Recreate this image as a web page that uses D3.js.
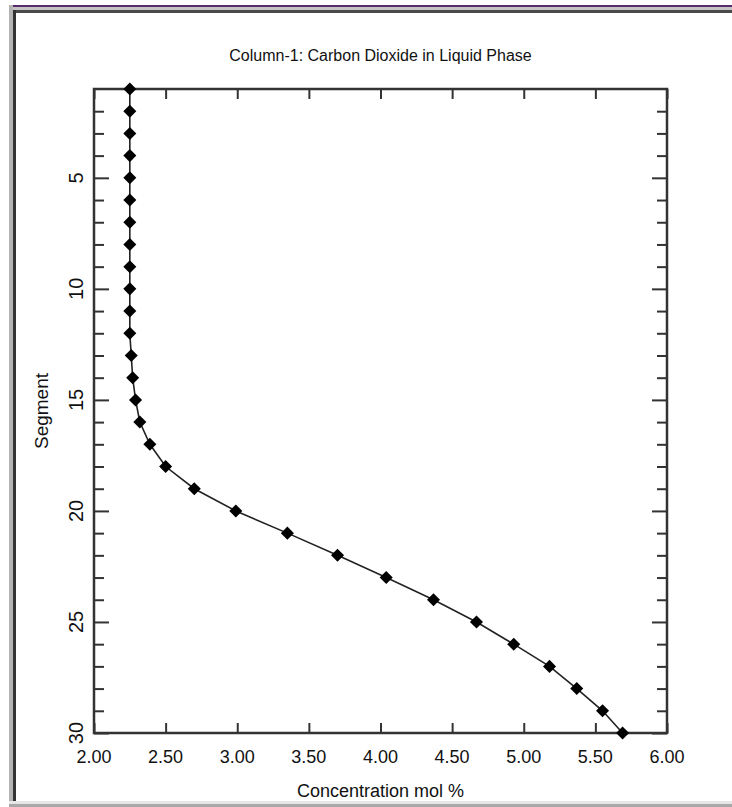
<!DOCTYPE html>
<html>
<head>
<meta charset="utf-8">
<script src="https://cdn.jsdelivr.net/npm/d3@7"></script>
<style>
  body { margin: 0; background: #fff; }
  svg { display: block; }
  text { font-family: "Liberation Sans", Arial, sans-serif; fill: #111; }
</style>
</head>
<body>
<svg id="chart"></svg>
<script>
'use strict';

// data
var segments = [1, 2, 3, 4, 5, 6, 7, 8, 9, 10, 11, 12, 13, 14, 15,
                16, 17, 18, 19, 20, 21, 22, 23, 24, 25, 26, 27, 28, 29, 30];
var concentration = [2.25, 2.25, 2.25, 2.25, 2.25, 2.25, 2.25, 2.25, 2.25, 2.25,
                     2.25, 2.25, 2.26, 2.27, 2.29, 2.32, 2.39, 2.50, 2.70, 2.99,
                     3.35, 3.70, 4.04, 4.37, 4.67, 4.93, 5.18, 5.37, 5.55, 5.69];
var xTicks = [2.0, 2.5, 3.0, 3.5, 4.0, 4.5, 5.0, 5.5, 6.0];
var yMajorTicks = [5, 10, 15, 20, 25, 30];
var yMinorTicks = [2, 3, 4, 6, 7, 8, 9, 11, 12, 13, 14, 16, 17, 18, 19,
                   21, 22, 23, 24, 26, 27, 28, 29];

var chartTitle = 'Column-1: Carbon Dioxide in Liquid Phase';
var xTitle = 'Concentration mol %';
var yTitle = 'Segment';

var width = 732,
    height = 807;
var plot = { left: 94, right: 667, top: 89, bottom: 733 };

var svg = d3.select('#chart')
  .attr('width', width)
  .attr('height', height);

// window frame around the chart
var frame = svg.append('g').attr('class', 'frame');
frame.append('rect').attr('x', 9).attr('y', 5).attr('width', width - 9).attr('height', 2).style('fill', '#5a2a6e');
frame.append('rect').attr('x', 9).attr('y', 7).attr('width', width - 9).attr('height', 3).style('fill', '#c4c4c4');
frame.append('rect').attr('x', 12).attr('y', 10).attr('width', width - 12).attr('height', 3).style('fill', '#4a4a4a');
frame.append('rect').attr('x', 9).attr('y', 5).attr('width', 4).attr('height', 796).style('fill', '#b4b4b4');
frame.append('rect').attr('x', 13).attr('y', 10).attr('width', 3).attr('height', 791).style('fill', '#333');
frame.append('rect').attr('x', 9).attr('y', 801).attr('width', width - 9).attr('height', 3).style('fill', '#e6e6e6');
frame.append('rect').attr('x', 9).attr('y', 804).attr('width', width - 9).attr('height', 3).style('fill', '#a8a8a8');

var x = d3.scaleLinear().domain([2, 6]).range([plot.left, plot.right]);
var y = d3.scaleLinear().domain([1, 30]).range([plot.top, plot.bottom]);

function styleAxis(g) {
  g.select('.domain').remove();
  g.selectAll('.tick line').style('stroke', '#333').style('stroke-width', 2);
  g.selectAll('.tick text').remove();
}

// inward ticks on all four sides
svg.append('g').attr('transform', 'translate(0,' + plot.bottom + ')')
  .call(d3.axisBottom(x).tickValues(xTicks).tickSize(-10)).call(styleAxis);
svg.append('g').attr('transform', 'translate(0,' + plot.top + ')')
  .call(d3.axisTop(x).tickValues(xTicks).tickSize(-10)).call(styleAxis);
svg.append('g').attr('transform', 'translate(' + plot.left + ',0)')
  .call(d3.axisLeft(y).tickValues(yMinorTicks).tickSize(-10)).call(styleAxis);
svg.append('g').attr('transform', 'translate(' + plot.left + ',0)')
  .call(d3.axisLeft(y).tickValues(yMajorTicks).tickSize(-15)).call(styleAxis);
svg.append('g').attr('transform', 'translate(' + plot.right + ',0)')
  .call(d3.axisRight(y).tickValues(yMinorTicks).tickSize(-10)).call(styleAxis);
svg.append('g').attr('transform', 'translate(' + plot.right + ',0)')
  .call(d3.axisRight(y).tickValues(yMajorTicks).tickSize(-15)).call(styleAxis);

svg.append('rect')
  .attr('x', plot.left)
  .attr('y', plot.top)
  .attr('width', plot.right - plot.left)
  .attr('height', plot.bottom - plot.top)
  .style('fill', 'none')
  .style('stroke', '#333')
  .style('stroke-width', 2.5);

// tick labels
svg.append('g').selectAll('text')
  .data(xTicks)
  .enter()
  .append('text')
  .attr('x', d => x(d))
  .attr('y', 763)
  .style('font-size', '18px')
  .style('text-anchor', 'middle')
  .text(d3.format('.2f'));

svg.append('g').selectAll('text')
  .data(yMajorTicks)
  .enter()
  .append('text')
  .attr('transform', d => 'translate(83,' + y(d) + ') rotate(-90)')
  .style('font-size', '20px')
  .style('text-anchor', 'middle')
  .text(d => d);

// titles
svg.append('text')
  .attr('x', (plot.left + plot.right) / 2)
  .attr('y', 61)
  .style('font-size', '16px')
  .style('text-anchor', 'middle')
  .text(chartTitle);

svg.append('text')
  .attr('x', (plot.left + plot.right) / 2)
  .attr('y', 797)
  .style('font-size', '18px')
  .style('text-anchor', 'middle')
  .text(xTitle);

svg.append('text')
  .attr('transform', 'translate(48,' + (plot.top + plot.bottom) / 2 + ') rotate(-90)')
  .style('font-size', '19px')
  .style('text-anchor', 'middle')
  .text(yTitle);

// profile line + diamond markers
var points = segments.map((s, i) => ({ seg: s, conc: concentration[i] }));

var line = d3.line()
  .x(d => x(d.conc))
  .y(d => y(d.seg));

svg.append('path')
  .datum(points)
  .attr('d', line)
  .style('fill', 'none')
  .style('stroke', '#222')
  .style('stroke-width', 1.6);

svg.append('g').selectAll('path')
  .data(points)
  .enter()
  .append('path')
  .attr('d', d3.symbol().type(d3.symbolSquare).size(85))
  .attr('transform', d => 'translate(' + x(d.conc) + ',' + y(d.seg) + ') rotate(45)')
  .style('fill', '#000');
</script>
</body>
</html>
